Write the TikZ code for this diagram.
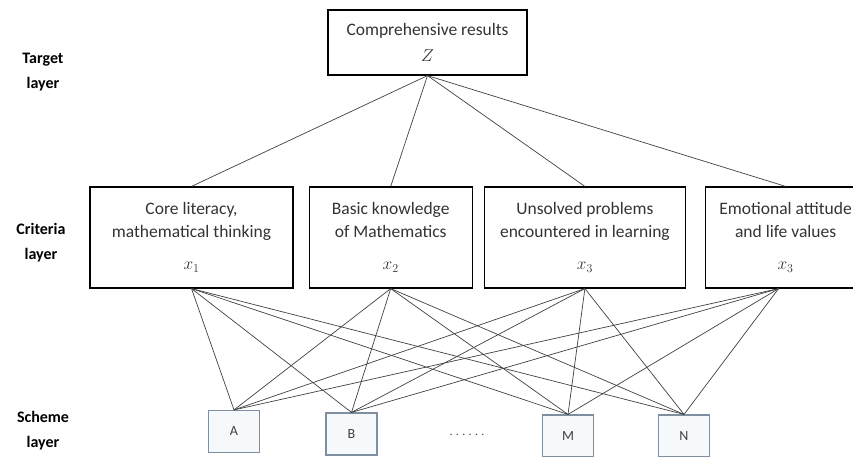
\documentclass[tikz,border=0pt]{standalone}
\usepackage{fontspec}
\setmainfont{Carlito}
\definecolor{schemeline}{RGB}{128,142,162}
\definecolor{schemefill}{RGB}{246,249,252}
\tikzstyle{block}=[draw, line width=1.2pt, minimum height=101pt, align=center, text=black!80, font=\fontsize{17.5}{23}\selectfont]
\tikzstyle{goal}=[block, minimum width=199pt, minimum height=65pt]
\tikzstyle{scheme}=[draw=schemeline, fill=schemefill, line width=1.2pt, minimum width=51pt, minimum height=42pt, text=black!75, font=\fontsize{14}{14}\selectfont]
\tikzstyle{layer}=[align=center, font=\bfseries\fontsize{16}{25}\selectfont]
\tikzstyle{link}=[draw=black!75, line width=0.7pt]
\usetikzlibrary{positioning}

\begin{document}
\begin{tikzpicture}[x=1pt,y=-1pt]
    \useasboundingbox (0,0) rectangle (853,457);
    % layer names
    \node [layer] (target) at (43,72) {Target\\layer};
    \node [layer] (criteria) at (41,243) {Criteria\\layer};
    \node [layer] (scheme) at (43,431) {Scheme\\layer};
    % target layer
    \node [goal] (z) at (427.5,42.5) {Comprehensive results\\[3pt]$Z$};
    % criteria layer
    \node [block, minimum width=203pt] (x1) at (191.5,237.5) {Core literacy,\\mathematical thinking\\[9pt]$x_1$};
    \node [block, minimum width=163pt, right=15pt of x1] (x2) {Basic knowledge\\of Mathematics\\[9pt]$x_2$};
    \node [block, minimum width=201pt, right=11pt of x2] (x3) {Unsolved problems\\encountered in learning\\[9pt]$x_3$};
    \node [block, minimum width=160pt, right=19pt of x3] (x4) {Emotional attitude\\and life values\\[9pt]$x_3$};
    % scheme layer
    \node [scheme] (a) at (234,431.5) {A};
    \node [scheme] (b) at (351.5,434) {B};
    \node [text=black!70, font=\fontsize{14}{14}\selectfont] (dots) at (467,435) {$\cdots\cdots$};
    \node [scheme] (m) at (568,436) {M};
    \node [scheme] (n) at (684,436) {N};
    \path[link]
    		(z.south) edge (x1.north)
    		(z.south) edge (x2.north)
    		(z.south) edge (x3.north)
    		(z.south) edge (x4.north);
    \path[link]
    		(x1.south) edge (a.north) edge (b.north) edge (m.north) edge (n.north)
    		(x2.south) edge (a.north) edge (b.north) edge (m.north) edge (n.north)
    		(x3.south) edge (a.north) edge (b.north) edge (m.north) edge (n.north)
    		([xshift=-7pt]x4.south) edge (a.north) edge (b.north) edge (m.north) edge (n.north);
\end{tikzpicture}
\end{document}
